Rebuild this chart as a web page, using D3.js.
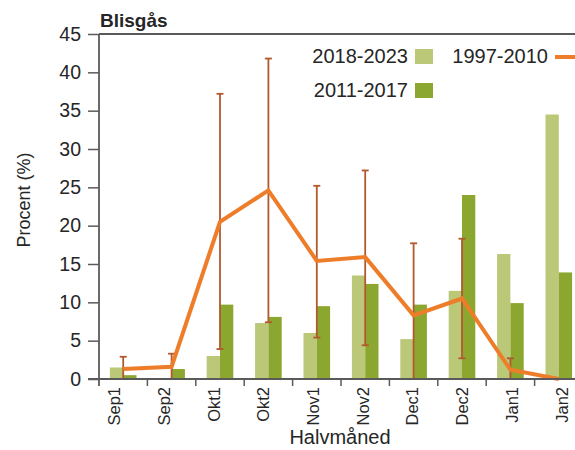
<!DOCTYPE html>
<html>
<head>
<meta charset="utf-8">
<script src="https://cdn.jsdelivr.net/npm/d3@7"></script>
<style>
  html, body { margin: 0; padding: 0; background: #fff; }
  svg { display: block; font-family: "Liberation Sans", Arial, sans-serif; }
</style>
</head>
<body>
<svg id="chart" width="575" height="450"></svg>
<script>
// Half-month periods and shares (%) per period
const periods = ["Sep1", "Sep2", "Okt1", "Okt2", "Nov1", "Nov2", "Dec1", "Dec2", "Jan1", "Jan2"];
const share2018_2023 = [1.5, 0.1, 3.0, 7.3, 6.0, 13.5, 5.2, 11.5, 16.3, 34.5];
const share2011_2017 = [0.5, 1.3, 9.7, 8.1, 9.5, 12.4, 9.7, 24.0, 9.9, 13.9];
const share1997_2010 = [1.3, 1.6, 20.5, 24.6, 15.4, 15.9, 8.3, 10.5, 1.2, 0];
const err1997Low  = [0, 0, 3.9, 7.4, 5.4, 4.4, 0, 2.7, 0, null];
const err1997High = [2.9, 3.3, 37.2, 41.8, 25.2, 27.2, 17.7, 18.3, 2.7, null];
const yTicks = [0, 5, 10, 15, 20, 25, 30, 35, 40, 45];

const colLight = "#bac878";
const colDark = "#8ba72f";
const colLine = "#ee7d2a";
const colErr = "#b2582e";
const colAxis = "#5a5a5a";
const colText = "#262626";

const svg = d3.select("#chart");
const plotLeft = 99, plotRight = 583, plotTop = 34, plotBottom = 379;

const x = d3.scaleBand().domain(periods).range([plotLeft, plotRight]);
// Category labels sit on a slightly wider spacing than the bar groups
const xLabel = d3.scaleBand().domain(periods).range([89.6, 586.6]);
const y = d3.scaleLinear().domain([0, 45]).range([plotBottom, plotTop]);
const inner = d3.scaleBand().domain(["a", "b"]).range([0, 26.6]);

// Bars
const g = svg.append("g");
periods.forEach((p, i) => {
  const cx = x(p) + x.bandwidth() / 2 - 13.3;
  g.append("rect")
    .attr("x", cx + inner("a")).attr("width", inner.bandwidth())
    .attr("y", y(share2018_2023[i])).attr("height", y(0) - y(share2018_2023[i]))
    .attr("fill", colLight);
  g.append("rect")
    .attr("x", cx + inner("b")).attr("width", inner.bandwidth())
    .attr("y", y(share2011_2017[i])).attr("height", y(0) - y(share2011_2017[i]))
    .attr("fill", colDark);
});

// Error bars for 1997-2010
const eg = svg.append("g").attr("stroke", colErr).attr("stroke-width", 1.8);
periods.forEach((p, i) => {
  if (err1997High[i] == null) return;
  const cx = x(p) + x.bandwidth() / 2;
  eg.append("line").attr("x1", cx).attr("x2", cx)
    .attr("y1", y(err1997Low[i])).attr("y2", y(err1997High[i]));
  eg.append("line").attr("x1", cx - 3.5).attr("x2", cx + 3.5)
    .attr("y1", y(err1997High[i])).attr("y2", y(err1997High[i]));
  if (err1997Low[i] > 0) {
    eg.append("line").attr("x1", cx - 3.5).attr("x2", cx + 3.5)
      .attr("y1", y(err1997Low[i])).attr("y2", y(err1997Low[i]));
  }
});

// Line for 1997-2010
svg.append("path")
  .datum(share1997_2010)
  .attr("fill", "none")
  .attr("stroke", colLine)
  .attr("stroke-width", 4)
  .attr("stroke-linejoin", "miter")
  .attr("d", d3.line()
    .x((d, i) => x(periods[i]) + x.bandwidth() / 2)
    .y(d => y(d)));

// Y axis
const yAxis = svg.append("g")
  .attr("transform", `translate(${plotLeft},0)`)
  .call(d3.axisLeft(y).tickValues(yTicks).tickSize(11).tickPadding(7));
yAxis.select(".domain").remove();
yAxis.selectAll(".tick line").attr("stroke", colAxis).attr("stroke-width", 1.5);
yAxis.selectAll(".tick text").attr("fill", colText).attr("font-size", 19.5)
  .attr("font-family", "'Liberation Sans', Arial, sans-serif");

svg.append("line").attr("x1", plotLeft).attr("x2", plotLeft).attr("y1", plotTop).attr("y2", plotBottom + 7)
  .attr("stroke", colAxis).attr("stroke-width", 1.8);
svg.append("line").attr("x1", plotLeft).attr("x2", 575).attr("y1", plotTop).attr("y2", plotTop)
  .attr("stroke", colAxis).attr("stroke-width", 1.8);

// X axis: labels
const xAxis = svg.append("g")
  .attr("transform", `translate(0,${plotBottom})`)
  .call(d3.axisBottom(xLabel).tickSize(0).tickPadding(0));
xAxis.select(".domain").remove();
xAxis.selectAll(".tick text")
  .attr("fill", colText).attr("font-size", 16.5)
  .attr("font-family", "'Liberation Sans', Arial, sans-serif")
  .attr("text-anchor", "end")
  .attr("y", 0)
  .attr("dy", "0.35em")
  .attr("transform", "translate(0,8) rotate(-90)");
// X axis: baseline and group separators
svg.append("line").attr("x1", 88).attr("x2", 575).attr("y1", plotBottom).attr("y2", plotBottom)
  .attr("stroke", colAxis).attr("stroke-width", 1.8);
svg.append("g").selectAll("line").data(periods.slice(1)).join("line")
  .attr("x1", d => x(d)).attr("x2", d => x(d))
  .attr("y1", plotBottom).attr("y2", plotBottom + 7)
  .attr("stroke", colAxis).attr("stroke-width", 1.5);

// Titles
svg.append("text").attr("x", 100).attr("y", 27)
  .attr("font-size", 19).attr("font-weight", "bold").attr("fill", colText)
  .text("Blisgås");
svg.append("text").attr("x", 340).attr("y", 444)
  .attr("text-anchor", "middle").attr("font-size", 20).attr("fill", colText)
  .text("Halvmåned");
svg.append("text")
  .attr("transform", "translate(30,200) rotate(-90)")
  .attr("text-anchor", "middle").attr("font-size", 18).attr("fill", colText)
  .text("Procent (%)");

// Legend
const lg = svg.append("g").attr("font-size", 20).attr("fill", colText);
lg.append("text").attr("x", 408).attr("y", 63).attr("text-anchor", "end").text("2018-2023");
lg.append("rect").attr("x", 415).attr("y", 49).attr("width", 18).attr("height", 15).attr("fill", colLight);
lg.append("text").attr("x", 408).attr("y", 97).attr("text-anchor", "end").text("2011-2017");
lg.append("rect").attr("x", 415).attr("y", 83).attr("width", 18).attr("height", 15).attr("fill", colDark);
lg.append("text").attr("x", 548).attr("y", 63).attr("text-anchor", "end").text("1997-2010");
lg.append("line").attr("x1", 555).attr("x2", 580).attr("y1", 57).attr("y2", 57)
  .attr("stroke", colLine).attr("stroke-width", 4);
</script>
</body>
</html>
